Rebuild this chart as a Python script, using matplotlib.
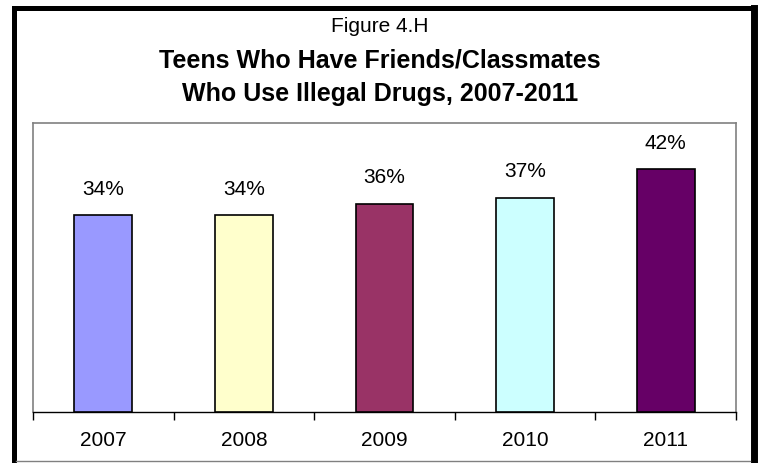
import matplotlib
matplotlib.use("Agg")
import matplotlib.pyplot as plt
from matplotlib.lines import Line2D

plt.rcParams['font.family'] = ['Liberation Sans', 'DejaVu Sans']

# data
years = ['2007', '2008', '2009', '2010', '2011']
pct = [34, 34, 36, 37, 42]
bar_colors = ['#9999FF', '#FFFFCC', '#993366', '#CCFFFF', '#660066']

W, H = 760, 463
fig = plt.figure(figsize=(W / 100, H / 100), dpi=100)
fig.patch.set_facecolor('white')


def fx(px):
    return px / W


def fy(py):
    return 1 - py / H


# plot area: x 33..736, y 123..412 (pixels)
ax = fig.add_axes([fx(33), fy(412), fx(736) - fx(33), fy(123) - fy(412)])
x = range(len(years))
ax.bar(x, pct, width=0.41, color=bar_colors, edgecolor='black', linewidth=1.2, zorder=3)
ax.set_xlim(-0.5, len(years) - 0.5)
ax.set_ylim(0, 50)

for xi, v in zip(x, pct):
    ax.annotate(f'{v}%', (xi, v), xytext=(0, 12), textcoords='offset points',
                ha='center', va='bottom', fontsize=15)

ax.set_yticks([])
ax.set_xticks([i + 0.5 for i in range(-1, len(years))], minor=False)
ax.set_xticklabels([])
ax.set_xticks(list(x), minor=True)
ax.set_xticklabels(years, minor=True, fontsize=15)
ax.tick_params(axis='x', which='major', length=6, width=1, color='black', direction='out')
ax.tick_params(axis='x', which='minor', length=0, pad=14)

for s in ['top', 'left', 'right']:
    ax.spines[s].set_color('#808080')
    ax.spines[s].set_linewidth(1.2)
ax.spines['bottom'].set_color('black')
ax.spines['bottom'].set_linewidth(1)

# titles
fig.text(0.5, fy(26), 'Figure 4.H', ha='center', va='center', fontsize=15)
fig.text(0.5, fy(60), 'Teens Who Have Friends/Classmates', ha='center', va='center',
         fontsize=18, fontweight='bold')
fig.text(0.5, fy(94), 'Who Use Illegal Drugs, 2007-2011', ha='center', va='center',
         fontsize=18, fontweight='bold')

# outer frame
fig.add_artist(Line2D([fx(13.5), fx(13.5)], [fy(7.5), fy(470)], color='black', lw=3.6,
                      transform=fig.transFigure, solid_capstyle='projecting'))
fig.add_artist(Line2D([fx(13.5), fx(753.5)], [fy(7.5), fy(7.5)], color='black', lw=3.6,
                      transform=fig.transFigure, solid_capstyle='projecting'))
fig.add_artist(Line2D([fx(753.5), fx(753.5)], [fy(7.5), fy(470)], color='black', lw=5,
                      transform=fig.transFigure))
fig.add_artist(Line2D([fx(16), fx(750)], [fy(461), fy(461)], color='#808080', lw=1,
                      transform=fig.transFigure))

fig.savefig('out.png', dpi=100, facecolor='white')
